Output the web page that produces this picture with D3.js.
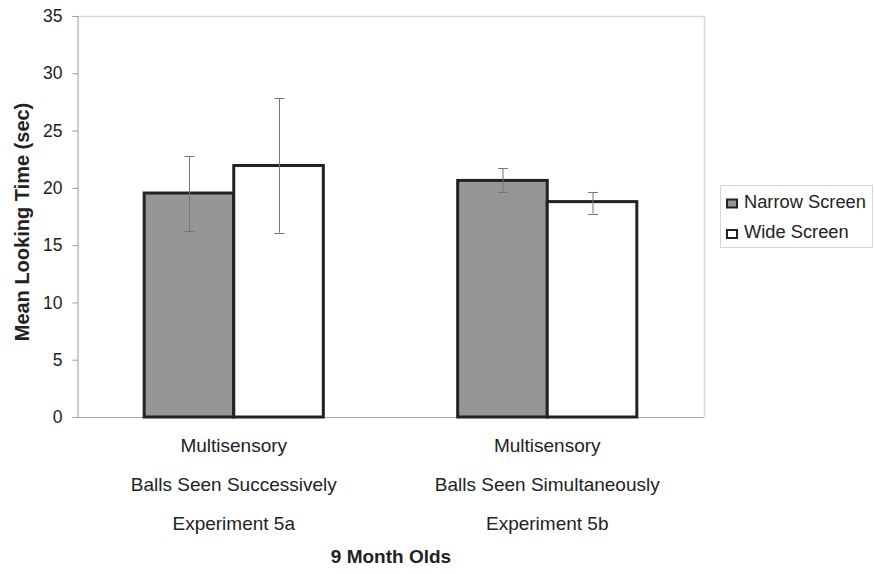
<!DOCTYPE html>
<html><head><meta charset="utf-8">
<script src="https://cdn.jsdelivr.net/npm/d3@7"></script>
<style>body{margin:0;background:#fff;}svg{display:block;font-family:"Liberation Sans",Arial,sans-serif;}</style>
</head><body>
<svg id="c" width="874" height="574"></svg>
<script>
const categories = ["A", "B"];
const categoryLines = [
  ["Multisensory", "Balls Seen Successively", "Experiment 5a"],
  ["Multisensory", "Balls Seen Simultaneously", "Experiment 5b"]
];
const seriesNames = ["Narrow Screen", "Wide Screen"];
const narrowValues = [19.55, 20.65];
const wideValues = [21.95, 18.8];
const narrowLow = [16.2, 19.65];
const narrowHigh = [22.75, 21.7];
const wideLow = [16.1, 17.75];
const wideHigh = [27.85, 19.65];
const yTicks = [0, 5, 10, 15, 20, 25, 30, 35];
const xTitle = "9 Month Olds";
const yTitle = "Mean Looking Time (sec)";

const svg = d3.select("#c");
const L = 77, R = 704, T = 16, B = 417;
const y = d3.scaleLinear().domain([0, 35]).range([B, T]);
const x = d3.scaleBand().domain(categories).range([L, R]);
const inner = d3.scaleBand().domain(seriesNames).range([0, x.bandwidth()]).paddingInner(0).paddingOuter(0.75);
const fills = ["#969696", "#ffffff"];

// frame
svg.append("line").attr("x1", L).attr("x2", R).attr("y1", T + 0.5).attr("y2", T + 0.5).attr("stroke", "#d6d6d6").attr("stroke-width", 1.5);
svg.append("line").attr("x1", R + 0.5).attr("x2", R + 0.5).attr("y1", T).attr("y2", B).attr("stroke", "#d6d6d6").attr("stroke-width", 1.5);

// y axis
const ya = svg.append("g").attr("transform", `translate(${L + 0.5},0)`)
  .call(d3.axisLeft(y).tickValues(yTicks).tickSize(5).tickPadding(10));
ya.select(".domain").attr("stroke", "#999");
ya.selectAll(".tick line").attr("stroke", "#999");
ya.selectAll(".tick text").attr("font-size", 17.5).attr("fill", "#222").attr("font-family", "Liberation Sans, Arial, sans-serif");

// x axis baseline
svg.append("line").attr("x1", L - 5).attr("x2", R).attr("y1", B + 0.5).attr("y2", B + 0.5).attr("stroke", "#aaa");

const data = categories.map((c, i) => ({
  c, series: [
    { s: seriesNames[0], v: narrowValues[i], lo: narrowLow[i], hi: narrowHigh[i], f: fills[0] },
    { s: seriesNames[1], v: wideValues[i], lo: wideLow[i], hi: wideHigh[i], f: fills[1] }
  ]
}));

const g = svg.selectAll("g.grp").data(data).join("g").attr("class", "grp")
  .attr("transform", d => `translate(${x(d.c)},0)`);
g.selectAll("rect").data(d => d.series).join("rect")
  .attr("x", d => inner(d.s))
  .attr("width", inner.bandwidth())
  .attr("y", d => y(d.v))
  .attr("height", d => y(0) - y(d.v))
  .attr("fill", d => d.f)
  .attr("stroke", "#222").attr("stroke-width", 3);

// error bars
const eb = g.selectAll("g.eb").data(d => d.series).join("g").attr("class", "eb")
  .attr("transform", d => `translate(${Math.round(inner(d.s) + inner.bandwidth() / 2) + 0.5},0)`);
eb.append("line").attr("y1", d => y(d.lo)).attr("y2", d => y(d.hi)).attr("stroke", "#777");
eb.append("line").attr("x1", -5).attr("x2", 5).attr("y1", d => Math.round(y(d.hi)) + 0.5).attr("y2", d => Math.round(y(d.hi)) + 0.5).attr("stroke", "#777");
eb.append("line").attr("x1", -5).attr("x2", 5).attr("y1", d => Math.round(y(d.lo)) + 0.5).attr("y2", d => Math.round(y(d.lo)) + 0.5).attr("stroke", "#777");

// category labels
const lineY = [452, 491, 530];
categories.forEach((c, i) => {
  categoryLines[i].forEach((t, j) => {
    svg.append("text").attr("x", x(c) + x.bandwidth() / 2).attr("y", lineY[j])
      .attr("text-anchor", "middle").attr("font-size", 19).attr("fill", "#222").text(t);
  });
});

// titles
svg.append("text").attr("x", 391).attr("y", 563).attr("text-anchor", "middle")
  .attr("font-size", 19).attr("font-weight", "bold").attr("fill", "#222").text(xTitle);
svg.append("text").attr("transform", "translate(29,222) rotate(-90)").attr("text-anchor", "middle")
  .attr("font-size", 20).attr("font-weight", "bold").attr("fill", "#222").text(yTitle);

// legend
svg.append("rect").attr("x", 720.5).attr("y", 185.5).attr("width", 152).attr("height", 62)
  .attr("fill", "#fff").attr("stroke", "#d6d6d6");
const lg = svg.selectAll("g.lg").data(seriesNames).join("g").attr("class", "lg")
  .attr("transform", (d, i) => `translate(0,${i * 30.5})`);
lg.append("rect").attr("x", 727).attr("y", 199.5).attr("width", 10).attr("height", 8)
  .attr("fill", (d, i) => fills[i]).attr("stroke", "#222").attr("stroke-width", 2);
lg.append("text").attr("x", 744).attr("y", 207.5).attr("font-size", 18.3).attr("fill", "#222").text(d => d);
</script>
</body></html>
